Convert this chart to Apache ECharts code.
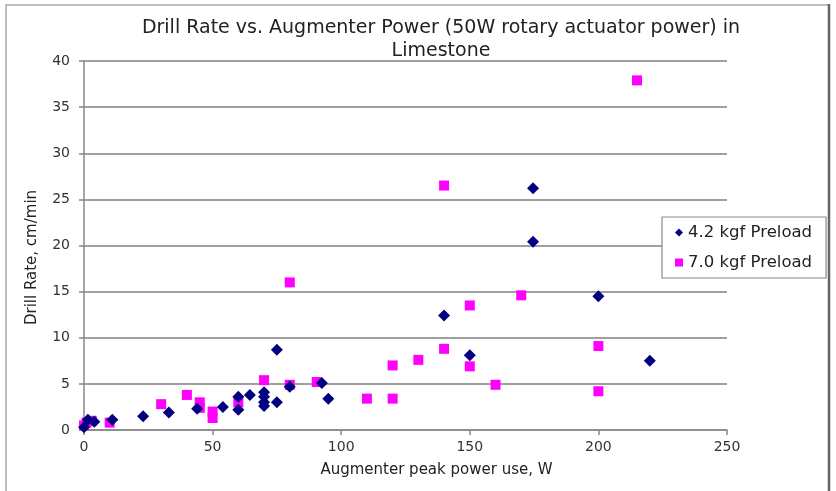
<!DOCTYPE html>
<html>
<head>
<meta charset="utf-8">
<script src="https://cdn.jsdelivr.net/npm/echarts@6/dist/echarts.min.js"></script>
<style>
html,body{margin:0;padding:0;background:#fff;}
#chart{width:836px;height:491px;}
</style>
</head>
<body>
<div id="chart"></div>
<script>
const titleLines = ["Drill Rate vs. Augmenter Power (50W rotary actuator power) in", "Limestone"];
const xAxisName = "Augmenter peak power use, W";
const yAxisName = "Drill Rate, cm/min";
const seriesNames = ["4.2 kgf Preload", "7.0 kgf Preload"];

const preload42 = [
  [0,0.3],[1.5,1.1],[4,0.9],[11,1.1],[23,1.5],[33,1.9],[44,2.3],[54,2.5],
  [60,2.2],[60,3.6],[64.5,3.8],[70,4.1],[70,3.6],[70,3.0],[70,2.6],[75,3.0],
  [75,8.7],[80,4.7],[92.5,5.1],[95,3.4],[140,12.4],[150,8.1],[174.6,26.2],
  [174.6,20.4],[200,14.5],[220,7.5]
];
const preload70 = [
  [0,0.5],[1,0.8],[3,1.0],[10,0.8],[30,2.8],[40,3.8],[45,3.0],[45,2.4],
  [50,1.3],[50,2.0],[60,3.0],[70,5.4],[80,16.0],[80,4.9],[90.5,5.2],[110,3.4],
  [120,3.4],[120,7.0],[130,7.6],[140,8.8],[140,26.5],[150,13.5],[150,6.9],
  [160,4.9],[170,14.6],[200,9.1],[200,4.2],[215,37.9]
];

const chart = echarts.init(document.getElementById('chart'), null, {renderer:'canvas'});
const font = 'DejaVu Sans, Liberation Sans, sans-serif';
chart.setOption({
  backgroundColor:'#fff',
  animation:false,
  graphic:[
    {type:'polyline', shape:{points:[[6,491],[6,5],[829,5]]},
     style:{fill:'none',stroke:'#aaaaaa',lineWidth:1.5}, z:-1},
    {type:'line', shape:{x1:829,y1:4,x2:829,y2:491},
     style:{stroke:'#666666',lineWidth:2.5}, z:-1}
  ],
  title:{
    text: titleLines.join('\n'),
    left: 436, top: 12, textAlign:'center',
    textStyle:{fontFamily:font,fontSize:19,fontWeight:'normal',color:'#222',lineHeight:23}
  },
  legend:{
    orient:'vertical', left:662, top:217,
    padding:[7,14,7,13], itemGap:13,
    borderColor:'#8a8a8a', borderWidth:1.2, backgroundColor:'#fff',
    itemWidth:8, itemHeight:8,
    textStyle:{fontFamily:font,fontSize:16.5,color:'#222'},
    data:[{name:seriesNames[0],icon:'diamond'},{name:seriesNames[1],icon:'rect'}]
  },
  grid:{left:84,right:109,top:61,bottom:61},
  xAxis:{
    type:'value', min:0, max:250, interval:50,
    name:xAxisName, nameLocation:'middle', nameGap:33,
    nameTextStyle:{fontFamily:font,fontSize:15,color:'#222',padding:[0,0,0,62]},
    axisLine:{show:true,onZero:false,lineStyle:{color:'#888',width:1.5}},
    axisTick:{show:true,length:5,lineStyle:{color:'#888',width:1.5}},
    axisLabel:{fontFamily:font,fontSize:14,color:'#333',margin:10},
    splitLine:{show:false}
  },
  yAxis:{
    type:'value', min:0, max:40, interval:5,
    name:yAxisName, nameLocation:'middle', nameGap:44,
    nameTextStyle:{fontFamily:font,fontSize:15,color:'#222',padding:[0,24,0,0]},
    axisLine:{show:true,lineStyle:{color:'#888',width:1.5}},
    axisTick:{show:true,length:5,lineStyle:{color:'#888',width:1.5}},
    axisLabel:{fontFamily:font,fontSize:14,color:'#333',margin:14},
    splitLine:{show:true,lineStyle:{color:'#a0a0a0',width:1.8}}
  },
  series:[
    {name:seriesNames[0],type:'scatter',data:preload42,symbol:'diamond',symbolSize:12,
     itemStyle:{color:'#000080',opacity:1},z:3},
    {name:seriesNames[1],type:'scatter',data:preload70,symbol:'rect',symbolSize:10,
     itemStyle:{color:'#ff00ff',opacity:1},z:2}
  ]
});
</script>
</body>
</html>
